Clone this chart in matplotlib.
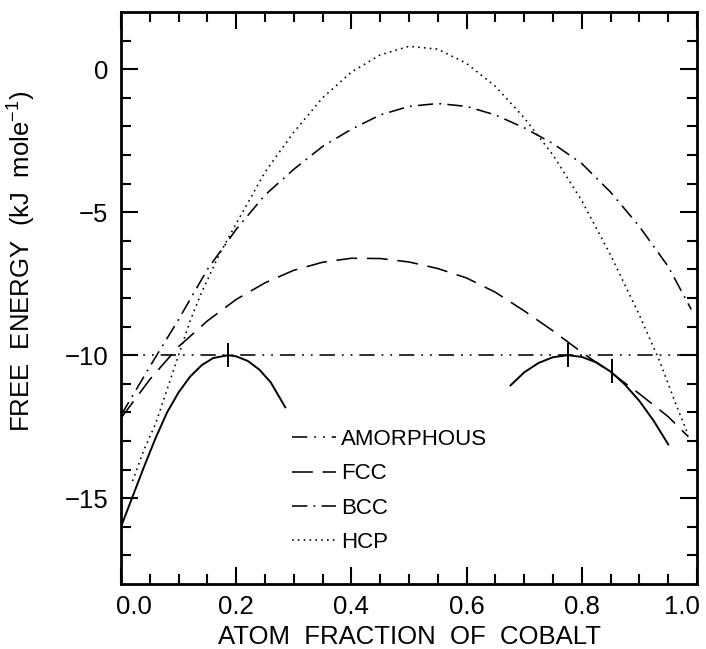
import matplotlib
matplotlib.use("Agg")
import matplotlib.pyplot as plt
import matplotlib.transforms as mtransforms

plt.rcParams['font.family'] = ['Liberation Sans', 'DejaVu Sans']
plt.rcParams['lines.scale_dashes'] = False
plt.rcParams['mathtext.fontset'] = 'custom'
plt.rcParams['mathtext.rm'] = 'Liberation Sans'

# ---- data ----
amorph_x = [0.0, 1.0]
amorph_y = [-10.0, -10.0]

fcc_x = [0.0, 0.05, 0.10, 0.15, 0.20, 0.25, 0.30, 0.35, 0.40, 0.45, 0.50,
         0.55, 0.60, 0.65, 0.70, 0.75, 0.80, 0.85, 0.90, 0.95, 0.985]
fcc_y = [-12.2, -10.85, -9.7, -8.8, -8.05, -7.47, -7.03, -6.75, -6.61, -6.62, -6.74,
         -6.97, -7.3, -7.8, -8.45, -9.15, -9.9, -10.6, -11.35, -12.15, -12.85]

bcc_x = [0.0, 0.05, 0.10, 0.15, 0.20, 0.25, 0.30, 0.35, 0.40, 0.45, 0.50,
         0.55, 0.60, 0.65, 0.70, 0.75, 0.80, 0.85, 0.90, 0.95, 0.99]
bcc_y = [-12.1, -10.4, -8.75, -7.0, -5.6, -4.4, -3.5, -2.7, -2.1, -1.6, -1.3,
         -1.2, -1.3, -1.6, -2.05, -2.6, -3.3, -4.3, -5.5, -6.9, -8.4]

hcp_x = [0.02, 0.04, 0.06, 0.08, 0.10, 0.12, 0.14, 0.17, 0.20, 0.25, 0.30,
         0.35, 0.40, 0.45, 0.50, 0.55, 0.60, 0.65, 0.70, 0.75, 0.80, 0.85,
         0.90, 0.935, 0.965, 0.985]
hcp_y = [-14.4, -13.3, -12.4, -11.2, -10.0, -8.8, -7.8, -6.5, -5.4, -3.6, -2.2,
         -1.0, -0.1, 0.5, 0.8, 0.7, 0.2, -0.6, -1.7, -3.0, -4.6, -6.5,
         -8.6, -10.2, -11.8, -12.8]

solidL_x = [0.0, 0.02, 0.04, 0.06, 0.08, 0.10, 0.12, 0.14, 0.16, 0.186, 0.20,
            0.22, 0.24, 0.26, 0.286]
solidL_y = [-16.0, -14.95, -13.9, -12.9, -12.0, -11.3, -10.75, -10.35, -10.1, -10.0, -10.04,
            -10.2, -10.5, -10.95, -11.85]

solidR_x = [0.675, 0.70, 0.725, 0.75, 0.776, 0.80, 0.825, 0.852, 0.875, 0.90, 0.925, 0.951]
solidR_y = [-11.08, -10.6, -10.27, -10.07, -10.0, -10.06, -10.25, -10.6, -11.03, -11.6, -12.3, -13.15]

mark_x = [0.186, 0.776, 0.852]
mark_y = [-10.0, -10.0, -10.55]

xticks = [0.0, 0.2, 0.4, 0.6, 0.8, 1.0]
xtick_labels = ['0.0', '0.2', '0.4', '0.6', '0.8', '1.0']
yticks = [0, -5, -10, -15]
ytick_labels = ['0', '\u22125', '\u221210', '\u221215']

labels = ['AMORPHOUS', 'FCC', 'BCC', 'HCP']

# ---- figure ----
fig = plt.figure(figsize=(7.06, 6.49), dpi=100)
ax = fig.add_axes([121/706, 1 - 584/649, 576/706, 572/649])

lw = 1.15
ax.plot(amorph_x, amorph_y, color='black', lw=lw,
        linestyle=(0, (11, 5, 1.3, 5, 1.3, 5)), label=labels[0])
ax.plot(fcc_x, fcc_y, color='black', lw=lw,
        linestyle=(0, (15, 7)), label=labels[1])
ax.plot(bcc_x, bcc_y, color='black', lw=lw,
        linestyle=(0, (11, 4.5, 1.3, 4.5)), label=labels[2])
ax.plot(hcp_x, hcp_y, color='black', lw=lw,
        linestyle=(0, (1.2, 3.0)), label=labels[3])
ax.plot(solidL_x, solidL_y, color='black', lw=1.4, solid_capstyle='butt')
ax.plot(solidR_x, solidR_y, color='black', lw=1.4, solid_capstyle='butt')
ax.plot(mark_x, mark_y, linestyle='none', marker='|', markersize=17,
        markeredgewidth=1.4, color='black')

ax.set_xlim(0, 1.0)
ax.set_ylim(-18, 2)

ax.set_xticks(xticks)
ax.set_xticklabels(xtick_labels)
ax.set_xticks([0.05, 0.1, 0.15, 0.25, 0.3, 0.35, 0.45, 0.5, 0.55, 0.65, 0.7, 0.75,
               0.85, 0.9, 0.95], minor=True)
ax.set_yticks(yticks)
ax.set_yticklabels(ytick_labels)
ax.set_yticks([1, -1, -2, -3, -4, -6, -7, -8, -9, -11, -12, -13, -14, -16, -17], minor=True)

ax.tick_params(which='both', direction='in', top=True, right=True,
               labelsize=18.5, width=1.5)
ax.tick_params(which='major', length=12)
ax.tick_params(which='minor', length=7)
ax.tick_params(axis='x', pad=8)
ax.tick_params(axis='y', pad=9)
for s in ax.spines.values():
    s.set_linewidth(2.0)

# shift first and last x tick labels inward
tl = ax.get_xticklabels()
tl[0].set_transform(tl[0].get_transform() + mtransforms.ScaledTranslation(0.13, 0, fig.dpi_scale_trans))
tl[-1].set_transform(tl[-1].get_transform() + mtransforms.ScaledTranslation(-0.15, 0, fig.dpi_scale_trans))

ax.set_xlabel('ATOM  FRACTION  OF  COBALT', fontsize=18.5, labelpad=4)
ax.set_ylabel('FREE  ENERGY  (kJ  mole$^{\\mathregular{-1}}$)', fontsize=18.5)
ax.yaxis.set_label_coords(-0.145, 0.563)

leg = ax.legend(loc='upper left', bbox_to_anchor=(292/706, 1 - 429/649),
                bbox_transform=fig.transFigure, frameon=False, fontsize=16,
                handlelength=2.0, handletextpad=0.2, labelspacing=0.6,
                borderpad=0, borderaxespad=0)

fig.savefig('out.png', dpi=100)
